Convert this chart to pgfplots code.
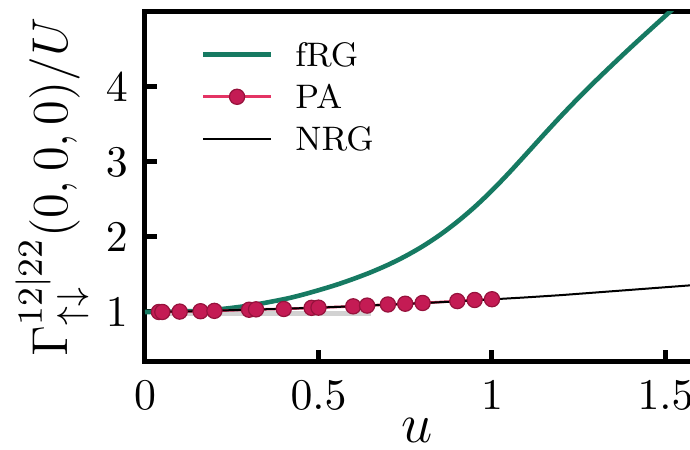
\RequirePackage{fix-cm}
\documentclass[border=0pt]{standalone}
\usepackage{pgfplots}
\pgfplotsset{compat=1.18}
\definecolor{frg}{RGB}{22,122,98}
\definecolor{paline}{RGB}{228,52,100}
\definecolor{pafill}{RGB}{196,27,84}
\definecolor{paedge}{RGB}{150,18,60}
\begin{document}
\begin{tikzpicture}
\useasboundingbox (0,0) rectangle (172.5pt,112.5pt);
\clip (0,0) rectangle (172.5pt,112.5pt);
\begin{axis}[
  at={(36.25pt,22pt)}, anchor=south west,
  scale only axis, width=138.8pt, height=87.5pt,
  xmin=0, xmax=1.6, ymin=0.333, ymax=5,
  xtick={0,0.5,1,1.5}, ytick={1,2,3,4},
  tick pos=left, tick align=inside,
  major tick length=3pt,
  every tick/.style={black, line width=1.25pt},
  axis line style={line width=1.25pt},
  tick label style={font=\fontsize{10.95}{13}\selectfont},
  xticklabel style={yshift=-1.3pt},
  yticklabel style={xshift=-0.8pt},
  xlabel={$u$},
  ylabel={$\Gamma^{12|22}_{\uparrow\downarrow}(0,0,0)/U$},
  xlabel style={font=\fontsize{14}{16}\selectfont, at={(axis description cs:0.49,-0.231)}, anchor=base, inner sep=0pt},
  ylabel style={font=\fontsize{12.6}{15}\selectfont, at={(axis description cs:-0.235,0.5)}, anchor=north, inner sep=0pt},
  legend style={at={(axis description cs:0.099,0.94)}, anchor=north west,
    draw=none, fill=none, font=\fontsize{8.5}{10}\selectfont, row sep=0pt,
    inner sep=0pt,
    nodes={inner xsep=0pt, inner ysep=2.25pt, text height=6pt, text depth=0pt},
    /tikz/every odd column/.append style={column sep=5.5pt}},
  legend cell align=left,
  legend image code/.code={\draw[mark repeat=2,mark phase=2,#1] plot coordinates {(0pt,0pt) (8.5pt,0pt) (17pt,0pt)};},
]
\addplot[frg, line width=1.15pt, smooth] coordinates {
(0,1.0) (0.1,1.005) (0.2,1.03) (0.3,1.085) (0.4,1.17) (0.45,1.225) (0.5,1.29)
(0.55,1.36) (0.6,1.44) (0.65,1.528) (0.7,1.628) (0.75,1.743) (0.8,1.875)
(0.85,2.028) (0.9,2.203) (0.95,2.40) (1.0,2.62) (1.05,2.86) (1.1,3.113)
(1.15,3.368) (1.2,3.618) (1.25,3.858) (1.3,4.088) (1.35,4.31) (1.4,4.528)
(1.45,4.74) (1.5,4.95) (1.55,5.158) (1.6,5.363)};
\addlegendentry{fRG}
\addplot[forget plot, gray!35, line width=1.25pt] coordinates {(0.02,0.98) (0.65,0.98)};
\addplot[paline, line width=0.65pt, mark=*, mark size=1.9pt,
  mark options={fill=pafill, draw=paedge, line width=0.3pt}] coordinates {
(0.04,1.0) (0.05,1.0) (0.1,1.005) (0.16,1.01) (0.2,1.015) (0.3,1.03) (0.32,1.035)
(0.4,1.04) (0.48,1.055) (0.5,1.058) (0.6,1.075) (0.64,1.085) (0.7,1.10) (0.75,1.11)
(0.8,1.12) (0.9,1.145) (0.95,1.16) (1.0,1.17)};
\addlegendentry{PA}
\addplot[black, line width=0.5pt] coordinates {
(0.03,1.0) (0.1,1.005) (0.2,1.018) (0.3,1.03) (0.4,1.043) (0.5,1.058) (0.6,1.076)
(0.7,1.097) (0.8,1.118) (0.9,1.142) (1.0,1.168) (1.1,1.195) (1.2,1.225) (1.3,1.26)
(1.4,1.295) (1.5,1.33) (1.6,1.365)};
\addlegendentry{NRG}
\end{axis}
\end{tikzpicture}
\end{document}
